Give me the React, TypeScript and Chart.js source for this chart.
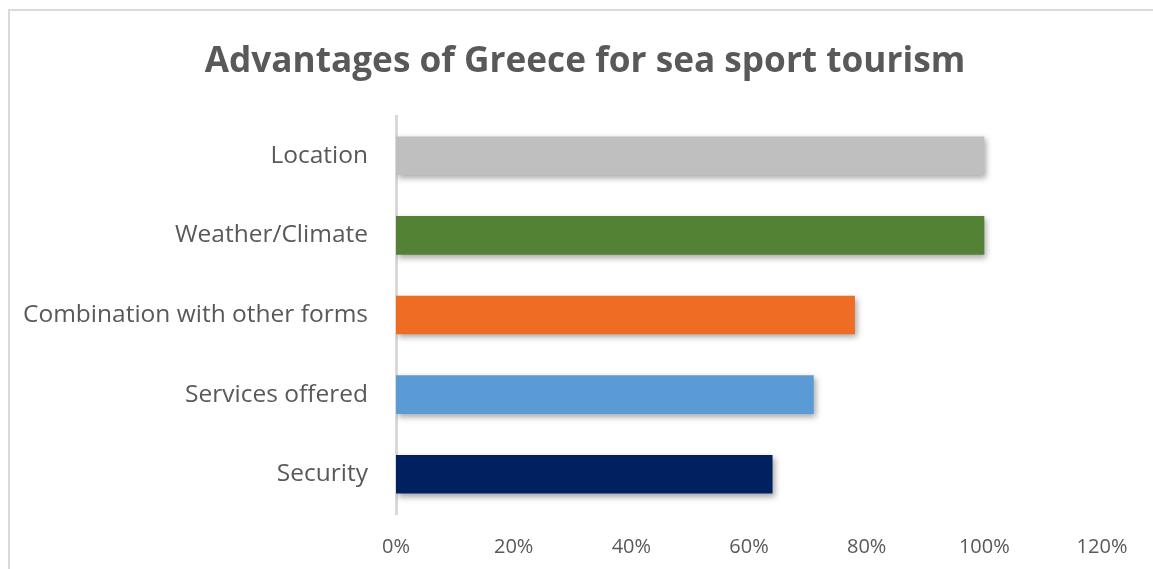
import React, { useEffect, useRef } from "react";
import { Chart, registerables } from "chart.js";

Chart.register(...registerables);

const categories = [
  "Location",
  "Weather/Climate",
  "Combination with other forms",
  "Services offered",
  "Security",
];
const values = [100, 100, 78, 71, 64];
const barColors = ["#BFBFBF", "#548235", "#EE6C23", "#5B9BD5", "#002060"];
const titleText = "Advantages of Greece for sea sport tourism";

const shadowPlugin = {
  id: "barShadow",
  beforeDatasetsDraw(chart: any) {
    const ctx = chart.ctx;
    ctx.save();
    ctx.shadowColor = "rgba(0,0,0,0.35)";
    ctx.shadowBlur = 6;
    ctx.shadowOffsetX = 2;
    ctx.shadowOffsetY = 3;
  },
  afterDatasetsDraw(chart: any) {
    chart.ctx.restore();
  },
};

const titlePlugin = {
  id: "centeredTitle",
  afterDraw(chart: any) {
    const ctx = chart.ctx;
    ctx.save();
    ctx.fillStyle = "#595959";
    ctx.font = "bold 35.2px 'Open Sans', sans-serif";
    ctx.textAlign = "center";
    ctx.textBaseline = "alphabetic";
    ctx.fillText(titleText, 585, 72);
    ctx.restore();
  },
};

export default function App() {
  const canvasRef = useRef<HTMLCanvasElement | null>(null);

  useEffect(() => {
    document.body.style.margin = "0";
    const canvas = canvasRef.current;
    if (!canvas) return;
    const chart = new Chart(canvas, {
      type: "bar",
      data: {
        labels: categories,
        datasets: [
          {
            data: values,
            backgroundColor: barColors,
            borderWidth: 0,
            barPercentage: 0.485,
            categoryPercentage: 1,
          },
        ],
      },
      plugins: [shadowPlugin, titlePlugin],
      options: {
        indexAxis: "y",
        responsive: false,
        animation: false,
        devicePixelRatio: 1,
        layout: { padding: { left: 0, right: 51, top: 116, bottom: 0 } },
        plugins: {
          legend: { display: false },
          tooltip: { enabled: false },
          title: { display: false },
        },
        scales: {
          x: {
            min: 0,
            max: 120,
            grid: { display: false, drawTicks: false },
            border: { display: false },
            ticks: {
              stepSize: 20,
              color: "#595959",
              font: { family: "'Open Sans', sans-serif", size: 20 },
              padding: 21,
              callback: (v: any) => v + "%",
            },
            afterFit: (scale: any) => {
              scale.height = 55;
            },
          },
          y: {
            grid: { display: false, drawTicks: false },
            border: { display: true, color: "#D9D9D9", width: 3 },
            ticks: {
              color: "#595959",
              font: { family: "'Open Sans', sans-serif", size: 24.5 },
              padding: 28,
            },
            afterFit: (scale: any) => {
              scale.width = 396;
            },
          },
        },
      },
    });
    return () => chart.destroy();
  }, []);

  return (
    <div
      style={{
        position: "relative",
        width: 1153,
        height: 569,
        overflow: "hidden",
        background: "#fff",
      }}
    >
      <div
        style={{
          position: "absolute",
          left: 8,
          top: 9,
          width: 1200,
          height: 700,
          border: "2px solid #D9D9D9",
          boxSizing: "border-box",
        }}
      />
      <canvas
        ref={canvasRef}
        width={1153}
        height={569}
        style={{ position: "absolute", left: 0, top: 0, width: 1153, height: 569 }}
      />
    </div>
  );
}
